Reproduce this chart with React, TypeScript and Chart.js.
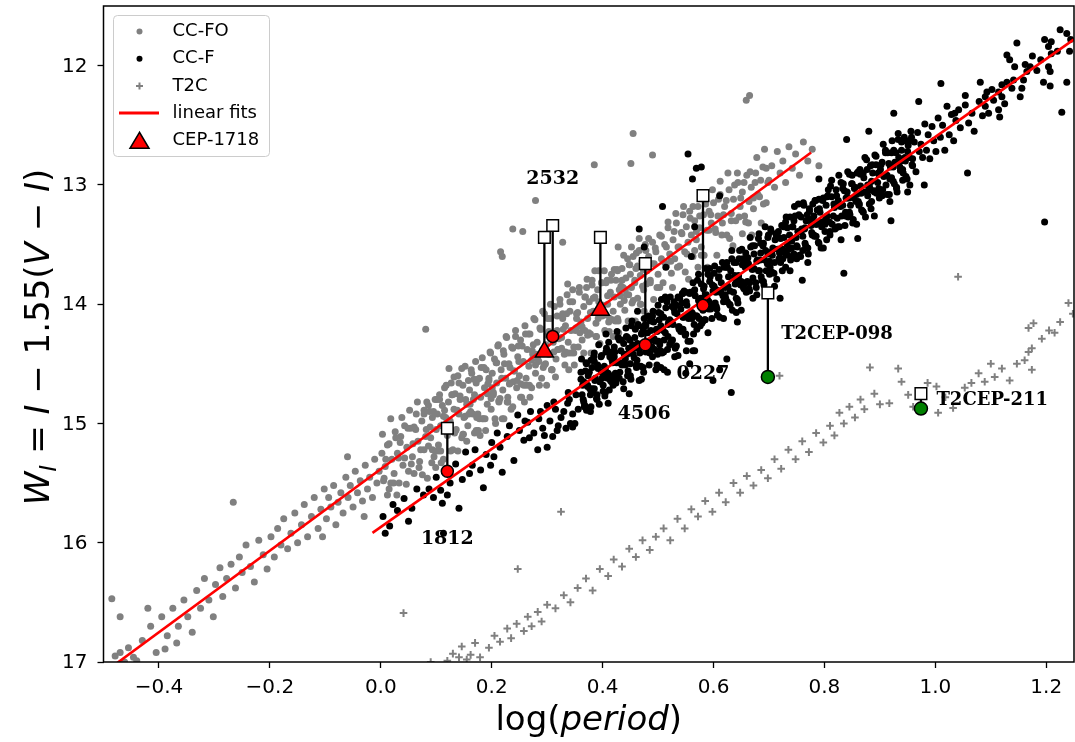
import React, { useEffect, useRef } from "react";
import { Chart, registerables } from "chart.js";

Chart.register(...registerables);

// ---------- axes ----------
const X_MIN = -0.5;
const X_MAX = 1.25;
const Y_MIN = 11.5;
const Y_MAX = 17;
const X_TICKS = [-0.4, -0.2, 0.0, 0.2, 0.4, 0.6, 0.8, 1.0, 1.2];
const X_TICK_LABELS = ["−0.4", "−0.2", "0.0", "0.2", "0.4", "0.6", "0.8", "1.0", "1.2"];
const Y_TICKS = [12, 13, 14, 15, 16, 17];
const Y_TICK_LABELS = ["12", "13", "14", "15", "16", "17"];

// ---------- series: first-overtone classical Cepheids (grey dots) ----------
const CC_FO: number[][] = [
  [-0.485,16.47],[-0.479,16.95],[-0.47,16.92],[-0.47,16.62],[-0.462,17.0],[-0.455,16.88],[-0.446,16.96],[-0.44,16.99],[-0.43,16.82],[-0.42,16.55],[-0.415,16.70],[-0.405,16.92],[-0.389,16.89],[-0.368,16.84],
  [-0.395,16.62],[-0.385,16.78],[-0.375,16.55],[-0.365,16.70],[-0.355,16.48],[-0.348,16.62],[-0.34,16.75],[-0.332,16.40],[-0.325,16.55],[-0.318,16.30],[-0.31,16.48],[-0.302,16.62],
  [-0.298,16.35],[-0.29,16.21],[-0.285,16.45],[-0.278,16.30],[-0.27,16.18],[-0.262,16.38],[-0.255,16.12],[-0.25,16.25],[-0.243,16.02],[-0.235,16.20],[-0.228,16.33],[-0.22,15.98],[-0.212,16.10],[-0.205,16.22],[-0.266,15.66],
  [-0.198,15.95],[-0.192,16.12],[-0.186,15.88],[-0.18,16.02],[-0.175,15.80],[-0.168,16.05],[-0.162,15.92],[-0.155,15.75],[-0.15,16.0],[-0.143,15.85],[-0.138,15.68],[-0.132,15.95],[-0.125,15.78],[-0.12,15.62],[-0.113,15.88],[-0.108,15.72],[-0.102,15.55],[-0.105,15.95],
  [-0.098,15.80],[-0.094,15.62],[-0.09,15.70],[-0.085,15.52],[-0.081,15.85],[-0.077,15.66],[-0.072,15.58],[-0.068,15.75],[-0.063,15.45],[-0.059,15.62],[-0.055,15.52],[-0.05,15.70],[-0.046,15.40],[-0.042,15.58],[-0.037,15.48],[-0.033,15.65],[-0.028,15.35],[-0.024,15.55],[-0.02,15.45],[-0.015,15.62],[-0.011,15.30],[-0.007,15.50],[-0.003,15.40],[-0.06,15.28],[-0.03,15.78],
  [0.002,15.25],[0.005,15.48],[0.008,15.36],[0.012,15.18],[0.015,15.55],[0.018,14.96],[0.02,15.30],[0.024,15.42],[0.027,15.12],[0.03,15.25],[0.033,15.50],[0.036,15.11],[0.04,15.35],[0.043,15.02],[0.047,15.20],[0.05,15.40],[0.054,15.04],[0.057,15.28],[0.06,15.03],[0.06,15.42],[0.064,14.92],[0.067,15.15],[0.07,15.32],[0.074,14.98],[0.078,14.89],[0.078,15.22],[0.081,14.21],[0.082,15.05],[0.084,15.46],[0.086,14.85],[0.09,15.12],[0.093,14.95],[0.096,15.28],[0.098,14.80],[0.1,15.05],
  [0.102,14.92],[0.104,15.18],[0.106,14.76],[0.108,15.02],[0.111,14.85],[0.113,15.30],[0.115,14.70],[0.117,14.95],[0.12,15.10],[0.122,14.82],[0.123,14.54],[0.125,14.98],[0.127,14.66],[0.13,15.22],[0.132,14.88],[0.134,14.75],[0.136,15.05],[0.139,14.60],[0.141,14.92],[0.143,14.80],[0.146,15.12],[0.148,14.68],[0.15,14.95],[0.152,14.52],[0.155,14.84],[0.157,15.02],[0.16,14.72],[0.162,14.90],[0.164,14.58],[0.167,14.80],[0.169,15.08],[0.171,14.48],[0.172,14.66],[0.175,14.92],[0.176,15.06],[0.178,14.62],[0.18,14.78],[0.183,14.45],[0.185,14.96],[0.187,14.70],[0.19,14.55],[0.192,14.84],[0.195,14.64],[0.197,14.40],[0.199,14.88],
  [0.201,14.58],[0.203,14.76],[0.205,14.46],[0.207,15.0],[0.209,14.66],[0.211,14.35],[0.213,14.82],[0.216,13.56],[0.217,14.55],[0.219,13.60],[0.22,14.72],[0.222,14.96],[0.222,14.42],[0.225,14.62],[0.227,14.28],[0.229,14.78],[0.231,14.50],[0.233,14.66],[0.236,14.36],[0.238,13.37],[0.238,14.86],[0.24,14.56],[0.243,14.22],[0.245,14.70],[0.247,14.44],[0.25,14.60],[0.252,14.30],[0.254,14.78],[0.256,13.39],[0.257,14.48],[0.26,14.18],[0.262,14.62],[0.264,14.38],[0.267,14.52],[0.269,14.25],[0.272,14.70],[0.274,14.42],[0.276,14.12],[0.279,13.13],[0.279,14.58],[0.282,14.32],[0.285,14.48],[0.287,14.20],[0.29,14.62],[0.292,14.38],[0.295,14.08],[0.297,14.50],
  [0.301,14.26],[0.303,14.42],[0.306,14.12],[0.308,14.55],[0.311,14.32],[0.313,14.02],[0.316,14.46],[0.318,14.22],[0.321,14.38],[0.323,13.96],[0.326,14.28],[0.328,13.48],[0.328,14.12],[0.331,14.42],[0.333,14.18],[0.336,13.92],[0.337,13.83],[0.338,14.32],[0.341,14.06],[0.343,14.22],[0.346,13.88],[0.348,14.36],
  [0.351,14.22],[0.353,14.08],[0.356,14.36],[0.358,13.90],[0.361,14.18],[0.363,14.30],[0.366,14.02],[0.368,14.22],[0.371,13.86],[0.373,14.12],[0.376,13.98],[0.378,14.25],[0.381,13.80],[0.383,14.06],[0.385,12.83],[0.386,13.94],[0.388,14.16],[0.391,13.88],[0.393,13.72],[0.396,14.02],[0.398,13.82],
  [0.401,14.06],[0.404,14.22],[0.406,13.82],[0.409,14.00],[0.411,14.15],[0.414,13.90],[0.416,13.75],[0.419,14.06],[0.421,13.94],[0.424,13.80],[0.427,13.72],[0.427,14.12],[0.428,13.52],[0.43,13.88],[0.432,14.00],[0.435,13.70],[0.437,13.86],[0.44,14.05],[0.442,13.78],[0.445,13.62],[0.447,13.92],[0.45,13.75],[0.451,12.82],[0.452,13.86],[0.455,12.57],[0.455,13.60],[0.458,13.82],[0.46,13.70],[0.463,13.95],[0.466,13.55],[0.468,13.76],[0.471,13.64],[0.474,13.88],[0.477,13.50],[0.48,13.72],[0.483,13.60],[0.486,13.80],[0.49,12.75],[0.49,13.48],[0.493,13.66],[0.496,13.56],
  [0.5,13.75],[0.503,13.42],[0.506,13.62],[0.509,13.82],[0.512,13.50],[0.515,13.68],[0.518,13.36],[0.521,13.58],[0.524,13.74],[0.527,13.46],[0.53,13.62],[0.533,13.32],[0.536,13.52],[0.539,13.68],[0.542,13.40],[0.545,13.25],[0.548,13.56],[0.551,13.35],[0.554,13.48],[0.557,13.22],[0.56,13.42],[0.563,13.60],[0.566,13.30],[0.569,13.46],[0.572,13.18],[0.575,13.36],[0.578,13.52],[0.582,13.25],[0.585,13.12],[0.588,13.38],[0.592,13.22],[0.596,13.32],
  [0.6,13.15],[0.604,13.40],[0.608,13.26],[0.612,13.08],[0.616,13.32],[0.62,13.18],[0.624,13.42],[0.628,13.04],[0.632,13.24],[0.636,13.12],[0.64,13.30],[0.644,12.98],[0.648,13.18],[0.652,13.06],[0.656,13.26],[0.659,12.29],[0.66,12.92],[0.664,13.14],[0.665,12.25],[0.668,13.02],[0.672,13.20],[0.676,12.90],[0.68,13.08],[0.685,12.96],[0.69,13.16],[0.695,12.86],
  [0.7,12.96],[0.705,12.84],[0.71,13.02],[0.715,12.72],[0.72,12.90],[0.725,12.80],[0.73,12.98],[0.736,12.68],[0.742,12.86],[0.748,12.74],[0.755,12.92],[0.762,12.64],[0.77,12.80],[0.778,12.70],[0.79,12.84],
  [.003,15.09],[.006,15.46],[.009,15.30],[.012,15.60],[.015,15.17],[.018,15.50],
  [.023,15.50],[.026,15.07],[.029,15.60],[.032,15.29],[.035,15.16],[.038,14.95],
  [.043,15.29],[.046,15.51],[.049,15.04],[.052,14.89],[.055,15.34],[.058,15.17],
  [.063,15.05],[.066,14.82],[.069,15.37],[.072,15.22],[.075,15.43],[.078,14.92],
  [.083,14.82],[.086,15.19],[.089,15.03],[.092,15.33],[.095,14.90],[.098,15.23],
  [.103,15.23],[.106,14.80],[.109,15.33],[.112,15.02],[.115,14.89],[.118,14.68],
  [.123,15.01],[.126,15.23],[.129,14.76],[.132,14.61],[.135,15.06],[.138,14.89],
  [.143,14.77],[.146,14.54],[.149,15.09],[.152,14.94],[.155,15.15],[.158,14.64],
  [.163,14.55],[.166,14.92],[.169,14.76],[.172,15.06],[.175,14.63],[.178,14.96],
  [.183,14.96],[.186,14.53],[.189,15.06],[.192,14.75],[.195,14.62],[.198,14.41],
  [.203,14.74],[.206,14.96],[.209,14.49],[.212,14.34],[.215,14.79],[.218,14.62],
  [.223,14.50],[.226,14.27],[.229,14.82],[.232,14.67],[.235,14.88],[.238,14.37],
  [.243,14.27],[.246,14.64],[.249,14.48],[.252,14.78],[.255,14.35],[.258,14.68],
  [.263,14.68],[.266,14.25],[.269,14.78],[.272,14.47],[.275,14.34],[.278,14.13],
  [.283,14.46],[.286,14.68],[.289,14.21],[.292,14.06],[.295,14.51],[.298,14.34],
  [.303,14.23],[.306,14.00],[.309,14.55],[.312,14.40],[.315,14.61],[.318,14.10],
  [.323,14.00],[.326,14.37],[.329,14.21],[.332,14.51],[.335,14.08],[.338,14.41],
  [.343,14.41],[.346,13.98],[.349,14.51],[.352,14.20],[.355,14.07],[.358,13.86],
  [.363,14.19],[.366,14.41],[.369,13.94],[.372,13.79],[.375,14.24],[.378,14.07],
  [.383,13.95],[.386,13.72],[.389,14.27],[.392,14.12],[.395,14.33],[.398,13.82],
  [.403,13.72],[.406,14.09],[.409,13.93],[.412,14.23],[.415,13.80],[.418,14.13],
  [.423,14.14],[.426,13.71],[.429,14.24],[.432,13.93],[.435,13.80],[.438,13.59],
  [.443,13.92],[.446,14.14],[.449,13.67],[.452,13.52],[.455,13.97],[.458,13.80],
  [.463,13.68],[.466,13.45],[.469,14.00],[.472,13.85],[.475,14.06],[.478,13.55],
  [.483,13.45],[.486,13.82],[.489,13.66],[.492,13.96],[.495,13.53],[.498,13.86],
  [.503,13.86],[.506,13.43],[.509,13.96],[.512,13.65],[.515,13.52],[.518,13.31],
  [.523,13.64],[.526,13.86],[.529,13.39],[.532,13.24],[.535,13.69],[.538,13.52],
  [.543,13.41],[.546,13.18],[.549,13.73],[.552,13.58],[.555,13.79],[.558,13.28],
  [.563,13.18],[.566,13.55],[.569,13.39],[.572,13.69],[.575,13.26],[.578,13.59],
  [.583,13.59],[.586,13.16],[.589,13.69],[.592,13.38],[.595,13.25],[.598,13.04],
  [.603,13.37],[.606,13.59],[.609,13.12],[.612,12.97],[.615,13.42],[.618,13.25],
  [.623,13.13],[.626,12.90],[.629,13.45],[.632,13.30],[.635,13.51],[.638,13.00],
  [.643,12.90],[.646,13.27],[.649,13.11],[.652,13.41],[.655,12.98],[.658,13.31],
  [.663,13.32],[.666,12.89],[.669,13.42],[.672,13.11],[.675,12.98],[.678,12.77],
  [.683,13.10],[.686,13.32],[.689,12.85],[.692,12.70],[.695,13.15],[.698,12.98],
  [.081,15.11],[.088,14.90],[.093,15.22],[.099,15.37],
  [.101,14.80],[.108,15.23],[.113,14.94],[.119,15.06],
  [.121,14.97],[.128,14.76],[.133,15.08],[.139,15.23],
  [.141,14.66],[.148,15.09],[.153,14.80],[.159,14.92],
  [.161,14.84],[.168,14.63],[.173,14.95],[.179,15.10],
  [.181,14.53],[.188,14.96],[.193,14.67],[.199,14.79],
  [.201,14.70],[.208,14.49],[.213,14.81],[.219,14.96],
  [.221,14.39],[.228,14.82],[.233,14.53],[.239,14.65],
  [.241,14.56],[.248,14.35],[.253,14.67],[.259,14.82],
  [.261,14.25],[.268,14.68],[.273,14.39],[.279,14.51],
  [.281,14.42],[.288,14.21],[.293,14.53],[.299,14.68],
  [.301,14.12],[.308,14.55],[.313,14.26],[.319,14.38],
  [.321,14.29],[.328,14.08],[.333,14.40],[.339,14.55],
  [.341,13.98],[.348,14.41],[.353,14.12],[.359,14.24],
  [.361,14.15],[.368,13.94],[.373,14.26],[.379,14.41],
  [.381,13.84],[.388,14.27],[.393,13.98],[.399,14.10],
  [.401,14.01],[.408,13.80],[.413,14.12],[.419,14.27],
  [.421,13.71],[.428,14.14],[.433,13.85],[.439,13.97],
  [.441,13.88],[.448,13.67],[.453,13.99],[.459,14.14],
  [.461,13.57],[.468,14.00],[.473,13.71],[.479,13.83]
];

// ---------- series: fundamental-mode classical Cepheids (black dots) ----------
const CC_F: number[][] = [
  [0.004,15.78],[0.008,15.92],[0.016,15.86],[0.022,15.68],[0.03,15.73],[0.042,15.63],[0.05,15.82],[0.056,15.71],[0.065,15.55],[0.077,15.60],[0.087,15.55],[0.095,15.62],[0.1,15.45],[0.108,15.56],[0.111,15.67],[0.113,15.92],[0.12,15.60],[0.125,15.50],[0.135,15.34],[0.141,15.71],[0.147,15.47],[0.153,15.24],[0.16,15.42],[0.165,15.35],[0.17,15.22],[0.18,15.39],[0.185,15.54],[0.19,15.26],[0.198,15.35],[0.2,15.16],[0.204,15.28],[0.21,15.08],[0.215,15.20],[0.219,15.41],[0.228,15.11],[0.232,15.02],[0.24,15.31],[0.247,14.93],[0.25,15.06],[0.258,15.14],[0.26,14.98],[0.265,14.99],[0.268,15.12],[0.27,14.90],[0.276,15.08],[0.283,15.22],[0.285,14.96],[0.288,14.90],[0.292,15.04],[0.295,15.10],[0.3,15.20],[0.3,14.85],[0.305,14.98],[0.31,15.11],[0.312,14.82],[0.315,14.88],[0.318,15.06],[0.32,15.02],[0.325,14.95],[0.33,14.90],[0.334,15.04],[0.337,14.83],[0.338,14.74],[0.34,14.80],[0.342,15.00],[0.346,15.03],[0.346,14.92],[0.35,15.00],[0.352,14.76],[0.356,14.88],
  [0.466,13.37],[0.508,13.18],[0.554,12.74],[0.569,12.86],[0.562,12.95],[0.578,12.85],[0.611,13.09],[0.566,13.35],[0.56,13.60],[0.593,13.70],[0.475,13.52],[0.514,13.69],[0.463,14.06],[0.475,14.12],[0.5,14.01],[0.529,13.98],[0.544,13.91],[0.566,14.39],[0.557,14.50],[0.517,14.57],[0.55,14.58],[0.505,14.53],[0.448,14.75],[0.466,14.64],[0.412,14.72],[0.367,14.86],[0.379,14.86],[0.385,14.71],[0.406,14.25],[0.835,13.74],[0.641,14.07],[0.643,14.15],[0.624,14.46],[0.632,14.74],[0.611,14.55],[0.551,14.39],[0.563,14.39],[0.536,14.43],[0.511,14.55],[0.496,14.55],[0.599,14.64],[0.671,13.95],
  [0.361,14.57],[0.363,14.76],[0.366,14.65],[0.368,14.85],[0.371,14.50],[0.373,14.69],[0.376,14.57],[0.378,14.76],
  [0.381,14.53],[0.383,14.72],[0.385,14.41],[0.387,14.62],[0.39,14.76],[0.392,14.54],[0.395,14.65],[0.398,14.43],
  [0.401,14.68],[0.403,14.52],[0.405,14.74],[0.407,14.37],[0.41,14.58],[0.413,14.44],[0.416,14.65],[0.418,14.49],
  [0.421,14.36],[0.423,14.58],[0.425,14.49],[0.428,14.28],[0.43,14.62],[0.433,14.39],[0.435,14.51],[0.438,14.33],
  [0.441,14.46],[0.443,14.27],[0.445,14.60],[0.447,14.37],[0.45,14.50],[0.452,14.18],[0.455,14.42],[0.458,14.28],
  [0.461,14.51],[0.463,14.33],[0.465,14.18],[0.467,14.41],[0.47,14.25],[0.473,14.53],[0.476,14.32],[0.478,14.18],
  [0.481,14.39],[0.483,14.10],[0.485,14.31],[0.487,14.22],[0.49,14.44],[0.492,14.15],[0.495,14.31],[0.498,14.23],
  [0.501,14.07],[0.503,14.34],[0.505,14.18],[0.507,14.41],[0.51,14.11],[0.513,14.24],[0.516,13.98],[0.518,14.27],
  [0.521,14.13],[0.523,14.32],[0.525,14.02],[0.527,14.17],[0.53,14.07],[0.533,14.35],[0.536,13.94],[0.538,14.19],
  [0.541,14.23],[0.543,13.99],[0.545,14.11],[0.547,13.89],[0.55,14.25],[0.552,14.01],[0.555,14.12],[0.558,13.90],
  [0.561,14.07],[0.563,13.82],[0.565,14.17],[0.567,13.93],[0.57,14.10],[0.573,13.97],[0.576,14.18],[0.578,13.83],
  [0.581,14.05],[0.583,13.85],[0.585,14.13],[0.587,13.92],[0.59,13.75],[0.592,13.98],[0.595,14.04],[0.598,13.84],
  [0.601,13.74],[0.603,13.99],[0.605,13.88],[0.607,14.09],[0.61,13.77],[0.613,13.90],[0.616,13.65],[0.618,13.98],
  [0.621,13.86],[0.623,13.69],[0.625,13.98],[0.627,13.77],[0.63,13.89],[0.633,13.62],[0.636,13.90],[0.638,13.76],
  [0.641,13.65],[0.643,13.96],[0.645,13.77],[0.647,13.55],[0.65,13.81],[0.652,13.67],[0.655,13.87],[0.658,13.57],
  [0.661,13.81],[0.663,13.66],[0.665,13.89],[0.667,13.52],[0.67,13.71],[0.673,13.58],[0.676,13.82],[0.678,13.64],
  [0.681,13.45],[0.683,13.72],[0.685,13.57],[0.687,13.80],[0.69,13.49],[0.692,13.63],[0.695,13.72],[0.698,13.44],
  [0.701,13.64],[0.703,13.37],[0.705,13.73],[0.707,13.53],[0.71,13.65],[0.713,13.41],[0.716,13.54],[0.718,13.44],
  [0.721,13.65],[0.723,13.34],[0.725,13.54],[0.727,13.44],[0.73,13.69],[0.733,13.36],[0.736,13.54],[0.738,13.27],
  [0.741,13.47],[0.743,13.35],[0.745,13.58],[0.747,13.26],[0.75,13.51],[0.752,13.39],[0.755,13.59],[0.758,13.27],
  [0.761,13.43],[0.763,13.17],[0.765,13.49],[0.767,13.30],[0.77,13.53],[0.773,13.20],[0.776,13.34],[0.778,13.29],
  [0.781,13.42],[0.783,13.13],[0.785,13.33],[0.787,13.21],[0.79,13.49],[0.792,13.23],[0.795,13.35],[0.798,13.11],
  [0.801,13.39],[0.803,13.17],[0.805,13.26],[0.807,13.04],[0.81,13.39],[0.813,13.10],[0.816,13.26],[0.818,13.17],
  [0.821,13.04],[0.823,13.28],[0.825,13.13],[0.827,13.35],[0.83,12.98],[0.833,13.17],[0.836,13.05],[0.838,13.26],
  [0.841,13.11],[0.843,13.27],[0.845,12.91],[0.847,13.17],[0.85,12.99],[0.852,13.29],[0.855,13.02],[0.858,13.08],
  [0.861,12.89],[0.863,13.16],[0.865,13.01],[0.867,13.21],[0.87,12.90],[0.873,13.06],[0.876,12.79],[0.878,13.09],
  [0.881,13.00],[0.883,12.84],[0.885,13.14],[0.887,12.90],[0.89,13.06],[0.893,12.76],[0.896,12.98],[0.898,12.91],
  [0.901,13.05],[0.904,12.81],[0.907,12.93],[0.91,12.71],[0.913,13.08],[0.916,12.82],[0.918,12.95],
  [0.921,12.73],[0.924,12.97],[0.927,12.81],[0.93,13.02],[0.933,12.62],[0.936,12.85],[0.939,12.71],
  [0.941,12.87],[0.944,12.63],[0.947,12.93],[0.95,12.72],[0.953,12.77],[0.956,12.55],[0.959,12.84],
  [0.962,12.64],[0.965,12.89],[0.968,12.56],[0.971,12.72],[0.974,12.66],[0.977,12.77],
  [0.981,12.49],[0.984,12.71],[0.987,12.58],[0.99,12.78],[0.994,12.51],[0.997,12.63],
  [1.001,12.72],[1.005,12.44],[1.009,12.60],[1.013,12.50],[1.017,12.71],[1.021,12.34],
  [1.025,12.58],[1.029,12.41],[1.033,12.63],[1.037,12.46],
  [1.225,11.70],[1.237,11.73],[1.244,11.78],[1.242,11.88],[1.197,11.78],[1.209,11.80],[1.204,11.84],[1.209,11.90],[1.147,11.81],[1.129,11.91],[1.134,11.95],[1.143,12.01],[1.162,11.99],[1.171,12.01],[1.183,12.04],[1.204,12.01],[1.207,12.05],[1.195,12.14],[1.207,12.17],[1.237,12.14],[1.228,12.39],[1.165,12.05],[1.159,12.12],[1.141,12.12],[1.129,12.14],[1.138,12.19],[1.156,12.19],[1.153,12.26],[1.12,12.16],[1.114,12.22],[1.102,12.20],[1.093,12.22],[1.081,12.14],[1.09,12.26],[1.105,12.29],[1.12,12.26],[1.125,12.32],[1.114,12.37],[1.09,12.34],[1.079,12.30],[1.054,12.25],[1.054,12.33],[1.042,12.37],[1.066,12.40],[1.096,12.40],[1.116,12.43],[1.035,12.40],
  [0.79,12.95],[0.84,12.62],[0.88,12.55],[0.925,12.40],[0.97,12.30],[1.01,12.15],[0.72,13.95],[0.76,13.80],[0.86,13.45],[0.92,13.30],[1.058,12.90],[1.197,13.31],[0.98,13.00],[1.045,12.52],[1.06,12.48],[1.07,12.55],[1.085,12.42],[1.175,11.92],[1.19,11.95],[1.22,11.88],
  [.362,14.46],[.364,14.68],[.366,14.82],[.369,14.56],[.371,14.89],[.374,14.60],[.377,14.71],[.379,14.47],
  [.382,14.74],[.384,14.44],[.386,14.64],[.389,14.79],[.391,14.51],[.394,14.84],[.397,14.44],[.399,14.62],
  [.402,14.60],[.404,14.77],[.406,14.40],[.409,14.62],[.411,14.32],[.414,14.64],[.417,14.47],[.419,14.68],
  [.422,14.40],[.424,14.66],[.426,14.23],[.429,14.49],[.431,14.57],[.434,14.30],[.437,14.65],[.439,14.42],
  [.442,14.20],[.444,14.42],[.446,14.56],[.449,14.30],[.451,14.63],[.454,14.34],[.457,14.45],[.459,14.21],
  [.462,14.47],[.464,14.17],[.466,14.37],[.469,14.52],[.471,14.24],[.474,14.57],[.477,14.17],[.479,14.35],
  [.482,14.34],[.484,14.51],[.486,14.14],[.489,14.36],[.491,14.06],[.494,14.38],[.497,14.21],[.499,14.42],
  [.502,14.13],[.504,14.39],[.506,13.96],[.509,14.22],[.511,14.30],[.514,14.03],[.517,14.38],[.519,14.15],
  [.522,13.94],[.524,14.16],[.526,14.30],[.529,14.04],[.531,14.37],[.534,14.08],[.537,14.19],[.539,13.95],
  [.542,14.21],[.544,13.91],[.546,14.11],[.549,14.26],[.551,13.98],[.554,14.31],[.557,13.91],[.559,14.09],
  [.562,14.08],[.564,14.25],[.566,13.88],[.569,14.10],[.571,13.80],[.574,14.12],[.577,13.95],[.579,14.16],
  [.582,13.87],[.584,14.13],[.586,13.70],[.589,13.96],[.591,14.04],[.594,13.77],[.597,14.12],[.599,13.89],
  [.602,13.68],[.604,13.90],[.606,14.04],[.609,13.78],[.611,14.11],[.614,13.82],[.617,13.93],[.619,13.69],
  [.622,13.95],[.624,13.65],[.626,13.85],[.629,14.00],[.631,13.72],[.634,14.05],[.637,13.65],[.639,13.83],
  [.642,13.82],[.644,13.99],[.646,13.62],[.649,13.84],[.651,13.54],[.654,13.86],[.657,13.69],[.659,13.90],
  [.662,13.61],[.664,13.87],[.666,13.44],[.669,13.70],[.671,13.78],[.674,13.51],[.677,13.86],[.679,13.63],
  [.682,13.41],[.684,13.63],[.686,13.77],[.689,13.51],[.691,13.84],[.694,13.55],[.697,13.66],[.699,13.42],
  [.702,13.69],[.704,13.39],[.706,13.59],[.709,13.74],[.711,13.46],[.714,13.79],[.717,13.39],[.719,13.57],
  [.722,13.55],[.724,13.72],[.726,13.35],[.729,13.57],[.731,13.27],[.734,13.59],[.737,13.42],[.739,13.63],
  [.742,13.35],[.744,13.61],[.746,13.18],[.749,13.44],[.751,13.52],[.754,13.25],[.757,13.60],[.759,13.37],
  [.762,13.15],[.764,13.37],[.766,13.51],[.769,13.25],[.771,13.58],[.774,13.29],[.777,13.40],[.779,13.16],
  [.782,13.43],[.784,13.13],[.786,13.33],[.789,13.48],[.791,13.20],[.794,13.53],[.797,13.13],[.799,13.31],
  [.802,13.29],[.804,13.46],[.806,13.09],[.809,13.31],[.811,13.01],[.814,13.33],[.817,13.16],[.819,13.37],
  [.822,13.09],[.824,13.35],[.826,12.92],[.829,13.18],[.831,13.26],[.834,12.99],[.837,13.34],[.839,13.11],
  [.842,12.89],[.844,13.11],[.846,13.25],[.849,12.99],[.851,13.32],[.854,13.03],[.857,13.14],[.859,12.90],
  [.862,13.17],[.864,12.87],[.866,13.07],[.869,13.22],[.871,12.94],[.874,13.27],[.877,12.87],[.879,13.05],
  [.882,13.03],[.884,13.20],[.886,12.83],[.889,13.05],[.891,12.75],[.894,13.07],[.897,12.90],[.899,13.11],
  [.902,12.83],[.904,13.09],[.906,12.66],[.909,12.92],[.911,13.00],[.914,12.73],[.917,13.08],[.919,12.85],
  [.922,12.63],[.924,12.85],[.926,12.99],[.929,12.73],[.931,13.06],[.934,12.77],[.937,12.88],[.939,12.64],
  [.942,12.90],[.944,12.60],[.946,12.80],[.949,12.95],[.951,12.67],[.954,13.00],[.957,12.60],[.959,12.78],
  [.361,14.63],[.365,14.80],[.37,14.49],[.373,14.68],[.378,14.90],
  [.381,14.71],[.385,14.48],[.39,14.80],[.393,14.34],[.398,14.57],
  [.401,14.73],[.405,14.54],[.41,14.83],[.413,14.40],[.418,14.60],
  [.421,14.44],[.425,14.61],[.43,14.30],[.433,14.49],[.438,14.71],
  [.441,14.51],[.445,14.28],[.45,14.60],[.453,14.14],[.458,14.37],
  [.461,14.53],[.465,14.34],[.47,14.63],[.473,14.20],[.478,14.40],
  [.481,14.24],[.485,14.41],[.49,14.10],[.493,14.29],[.498,14.51],
  [.501,14.31],[.505,14.08],[.51,14.40],[.513,13.94],[.518,14.17],
  [.521,14.34],[.525,14.15],[.53,14.44],[.533,14.01],[.538,14.21],
  [.541,14.04],[.545,14.21],[.55,13.90],[.553,14.09],[.558,14.31],
  [.561,14.12],[.565,13.89],[.57,14.21],[.573,13.75],[.578,13.98],
  [.581,14.14],[.585,13.95],[.59,14.24],[.593,13.81],[.598,14.01],
  [.601,13.85],[.605,14.02],[.61,13.71],[.613,13.90],[.618,14.12],
  [.621,13.92],[.625,13.69],[.63,14.01],[.633,13.55],[.638,13.78],
  [.641,13.95],[.645,13.76],[.65,14.05],[.653,13.62],[.658,13.82],
  [.661,13.65],[.665,13.82],[.67,13.51],[.673,13.70],[.678,13.92],
  [.681,13.72],[.685,13.49],[.69,13.81],[.693,13.35],[.698,13.58],
  [.701,13.75],[.705,13.56],[.71,13.85],[.713,13.42],[.718,13.62],
  [.721,13.45],[.725,13.62],[.73,13.31],[.733,13.50],[.738,13.72],
  [.741,13.53],[.745,13.30],[.75,13.62],[.753,13.16],[.758,13.39],
  [.761,13.55],[.765,13.36],[.77,13.65],[.773,13.22],[.778,13.42],
  [.781,13.26],[.785,13.43],[.79,13.12],[.793,13.31],[.798,13.53],
  [.801,13.33],[.805,13.10],[.81,13.42],[.813,12.96],[.818,13.19],
  [.821,13.36],[.825,13.17],[.83,13.46],[.833,13.03],[.838,13.23],
  [.841,13.06],[.845,13.23],[.85,12.92],[.853,13.11],[.858,13.33],
  [.861,13.14],[.865,12.91],[.87,13.23],[.873,12.77],[.878,13.00],
  [.881,13.16],[.885,12.97],[.89,13.26],[.893,12.83],[.898,13.03],
  [.901,12.87],[.905,13.04],[.91,12.73],[.913,12.92],[.918,13.14],
  [.921,12.94],[.925,12.71],[.93,13.03],[.933,12.57],[.938,12.80],
  [.941,12.96],[.945,12.77],[.95,13.06],[.953,12.63],[.958,12.83]
];

// ---------- series: type II Cepheids (grey crosses) ----------
const T2C: number[][] = [
  [0.09,17.0],[0.12,16.99],[0.13,16.93],[0.141,16.96],[0.146,16.87],[0.155,16.98],[0.162,16.94],[0.17,16.84],[0.179,16.96],[0.195,16.88],[0.205,16.78],[0.215,16.83],[0.228,16.72],[0.235,16.80],[0.245,16.68],[0.258,16.74],[0.265,16.62],[0.272,16.70],[0.283,16.58],[0.29,16.66],[0.3,16.52],[0.041,16.59],[0.247,16.22],[0.325,15.74],
  [0.315,16.55],[0.33,16.44],[0.342,16.50],[0.355,16.38],[0.37,16.30],[0.382,16.40],[0.395,16.22],[0.41,16.28],[0.42,16.14],[0.435,16.20],[0.448,16.05],[0.46,16.12],[0.472,15.98],[0.485,16.06],[0.496,15.95],[0.51,15.88],[0.522,15.98],[0.535,15.80],[0.548,15.88],[0.56,15.72],[0.572,15.78],[0.585,15.65],[0.598,15.74],[0.61,15.58],[0.622,15.66],[0.636,15.50],[0.648,15.58],[0.66,15.44],[0.672,15.52],[0.686,15.39],[0.698,15.46],[0.71,15.30],[0.722,15.38],[0.735,15.22],[0.748,15.30],[0.76,15.15],[0.772,15.24],[0.785,15.08],[0.798,15.16],[0.81,15.02],[0.818,15.10],[0.827,14.91],[0.835,15.00],[0.845,14.86],[0.855,14.95],[0.865,14.80],[0.872,14.88],[0.882,14.53],[0.89,14.75],[0.9,14.84],[0.917,14.83],[0.933,14.54],[0.939,14.65],[0.951,14.76],[0.96,14.86],[0.986,14.66],[1.002,14.69],[1.005,14.91],[1.018,14.78],[1.032,14.87],[1.041,13.77],[1.053,14.70],[1.065,14.66],[1.078,14.58],[1.089,14.65],[1.1,14.50],[1.107,14.61],[1.12,14.54],[1.134,14.64],[1.147,14.50],[1.161,14.47],[1.168,14.40],[1.174,14.37],[1.174,14.55],[1.168,14.20],[1.177,14.16],[1.192,14.29],[1.205,14.22],[1.215,14.24],[1.225,14.15],[1.24,13.99],[1.248,14.08],[0.719,14.60]
];

// ---------- linear fits ----------
const FIT_FO_X = [-0.48, 0.776];
const FIT_FO_Y = [17.024, 12.728];
const FIT_F_X = [-0.015, 1.25];
const FIT_F_Y = [15.917, 11.78];

// ---------- individual stars: open square -> shifted marker ----------
const STAR_X = [0.295, 0.31, 0.396, 0.477, 0.581, 0.12, 0.698, 0.974];
const STAR_SQUARE_Y = [13.44, 13.34, 13.44, 13.66, 13.09, 15.04, 13.905, 14.75];
const STAR_MARK_Y = [14.40, 14.27, 14.05, 14.34, 14.01, 15.40, 14.61, 14.875];
const STAR_KIND = ["cep1718", "cc", "cep1718", "cc", "cc", "cc", "t2", "t2"];

// ---------- annotations ----------
const NOTE_TEXT = ["2532", "4506", "0227", "1812", "T2CEP-098", "T2CEP-211"];
const NOTE_X = [0.31, 0.475, 0.581, 0.12, 0.722, 1.002];
const NOTE_Y = [12.95, 14.92, 14.59, 15.97, 14.25, 14.81];

const LEGEND_LABELS = ["CC-FO", "CC-F", "T2C", "linear fits", "CEP-1718"];

const GREY = "#808080";
const RED = "#ff0000";
const GREEN = "#008000";

const pts = (a: number[][]) => a.map(([x, y]) => ({ x, y }));
const pair = (xs: number[], ys: number[]) => xs.map((x, i) => ({ x, y: ys[i] }));

type Seg = { t: string; it?: boolean; sub?: boolean };
const Y_TITLE: Seg[] = [
  { t: "W", it: true }, { t: "I", it: true, sub: true }, { t: " = " }, { t: "I", it: true },
  { t: " − 1.55(" }, { t: "V", it: true }, { t: " − " }, { t: "I", it: true }, { t: ")" },
];
const X_TITLE: Seg[] = [{ t: "log(" }, { t: "period", it: true }, { t: ")" }];

function segFont(s: Seg, size: number) {
  const sz = s.sub ? size * 0.7 : size;
  return `${s.it ? "italic " : ""}${sz}px "DejaVu Sans"`;
}
function drawRich(ctx: CanvasRenderingContext2D, segs: Seg[], size: number) {
  const ws = segs.map((s) => { ctx.font = segFont(s, size); return ctx.measureText(s.t).width; });
  const total = ws.reduce((a, b) => a + b, 0);
  let x = -total / 2;
  segs.forEach((s, i) => {
    ctx.font = segFont(s, size);
    ctx.fillText(s.t, x, s.sub ? size * 0.22 : 0);
    x += ws[i];
  });
}

const overlay = {
  id: "overlay",
  afterDatasetsDraw(chart: any) {
    const { ctx, chartArea, scales } = chart;
    const xs = scales.x, ys = scales.y;
    ctx.save();
    ctx.fillStyle = "#000";
    ctx.textBaseline = "middle";
    NOTE_TEXT.forEach((t, i) => {
      const left = t.startsWith("T2CEP");
      ctx.font = `bold ${left ? 18 : 19}px "DejaVu Serif"`;
      ctx.textAlign = left ? "left" : "center";
      ctx.fillText(t, xs.getPixelForValue(NOTE_X[i]), ys.getPixelForValue(NOTE_Y[i]));
    });
    ctx.strokeStyle = "#000";
    ctx.lineWidth = 1.5;
    ctx.strokeRect(chartArea.left, chartArea.top, chartArea.right - chartArea.left, chartArea.bottom - chartArea.top);

    // tick labels
    ctx.font = '20px "DejaVu Sans"';
    ctx.fillStyle = "#000";
    ctx.textAlign = "center";
    ctx.textBaseline = "middle";
    X_TICKS.forEach((v, i) => ctx.fillText(X_TICK_LABELS[i], xs.getPixelForValue(v), chartArea.bottom + 26));
    ctx.textAlign = "right";
    Y_TICKS.forEach((v, i) => ctx.fillText(Y_TICK_LABELS[i], chartArea.left - 16, ys.getPixelForValue(v) + 1));

    // legend
    const bx = 113.5, by = 15.5, bw = 156, bh = 141, r = 4;
    ctx.beginPath();
    ctx.moveTo(bx + r, by);
    ctx.lineTo(bx + bw - r, by);
    ctx.quadraticCurveTo(bx + bw, by, bx + bw, by + r);
    ctx.lineTo(bx + bw, by + bh - r);
    ctx.quadraticCurveTo(bx + bw, by + bh, bx + bw - r, by + bh);
    ctx.lineTo(bx + r, by + bh);
    ctx.quadraticCurveTo(bx, by + bh, bx, by + bh - r);
    ctx.lineTo(bx, by + r);
    ctx.quadraticCurveTo(bx, by, bx + r, by);
    ctx.closePath();
    ctx.fillStyle = "rgba(255,255,255,0.8)";
    ctx.fill();
    ctx.strokeStyle = "#cccccc";
    ctx.lineWidth = 1;
    ctx.stroke();
    const mx = 139.5;
    LEGEND_LABELS.forEach((lab, i) => {
      const cy = 31.5 + i * 27.2;
      if (i === 0 || i === 1) {
        ctx.beginPath();
        ctx.arc(mx, cy, 3, 0, Math.PI * 2);
        ctx.fillStyle = i === 0 ? GREY : "#000";
        ctx.fill();
      } else if (i === 2) {
        ctx.strokeStyle = GREY;
        ctx.lineWidth = 2;
        ctx.beginPath();
        ctx.moveTo(mx - 3.5, cy); ctx.lineTo(mx + 3.5, cy);
        ctx.moveTo(mx, cy - 3.5); ctx.lineTo(mx, cy + 3.5);
        ctx.stroke();
      } else if (i === 3) {
        ctx.strokeStyle = RED;
        ctx.lineWidth = 3;
        ctx.beginPath();
        ctx.moveTo(119, cy); ctx.lineTo(159, cy);
        ctx.stroke();
      } else {
        ctx.beginPath();
        ctx.moveTo(mx, cy - 8);
        ctx.lineTo(mx - 9.5, cy + 8);
        ctx.lineTo(mx + 9.5, cy + 8);
        ctx.closePath();
        ctx.fillStyle = RED;
        ctx.fill();
        ctx.strokeStyle = "#000";
        ctx.lineWidth = 1.5;
        ctx.stroke();
      }
      ctx.fillStyle = "#000";
      ctx.font = '18px "DejaVu Sans"';
      ctx.textAlign = "left";
      ctx.textBaseline = "middle";
      ctx.fillText(lab, 172.5, cy);
    });
    ctx.restore();

    ctx.save();
    ctx.fillStyle = "#000";
    ctx.textAlign = "left";
    ctx.textBaseline = "alphabetic";
    ctx.translate((chartArea.left + chartArea.right) / 2, 730);
    drawRich(ctx, X_TITLE, 34);
    ctx.restore();
    ctx.save();
    ctx.fillStyle = "#000";
    ctx.textAlign = "left";
    ctx.textBaseline = "alphabetic";
    ctx.translate(49, 337);
    ctx.rotate(-Math.PI / 2);
    drawRich(ctx, Y_TITLE, 34);
    ctx.restore();
  },
};

export default function App() {
  const ref = useRef<HTMLCanvasElement | null>(null);
  useEffect(() => {
    if (!ref.current) return;
    const connectors = STAR_X.map((x, i) => ({
      type: "scatter" as const,
      data: [{ x, y: STAR_SQUARE_Y[i] }, { x, y: STAR_MARK_Y[i] }],
      showLine: true,
      borderColor: "#000",
      borderWidth: 2.3,
      pointRadius: 0,
      clip: 0,
      order: 3,
    }));
    const pick = (k: string) =>
      STAR_X.map((x, i) => ({ x, y: STAR_MARK_Y[i], k: STAR_KIND[i] }))
        .filter((p) => p.k === k)
        .map(({ x, y }) => ({ x, y }));

    const chart = new Chart(ref.current, {
      type: "scatter",
      data: {
        datasets: [
          { data: pts(CC_FO), backgroundColor: GREY, borderWidth: 0, pointRadius: 3.5, clip: 0, order: 9 } as any,
          { data: pts(CC_F), backgroundColor: "#000", borderWidth: 0, pointRadius: 3.5, clip: 0, order: 8 } as any,
          { data: pts(T2C), pointStyle: "cross", borderColor: GREY, borderWidth: 2, pointRadius: 3.8, clip: 0, order: 7 } as any,
          { data: pair(FIT_FO_X, FIT_FO_Y), showLine: true, borderColor: RED, borderWidth: 2.6, pointRadius: 0, clip: 0, order: 5 } as any,
          { data: pair(FIT_F_X, FIT_F_Y), showLine: true, borderColor: RED, borderWidth: 2.6, pointRadius: 0, clip: 0, order: 5 } as any,
          ...(connectors as any[]),
          { data: pair(STAR_X, STAR_SQUARE_Y), pointStyle: "rect", pointRadius: 8.2, backgroundColor: "#fff", borderColor: "#000", borderWidth: 1.5, clip: 0, order: 2 } as any,
          { data: pick("cc"), pointStyle: "circle", pointRadius: 6, backgroundColor: RED, borderColor: "#000", borderWidth: 1.5, clip: 0, order: 1 } as any,
          { data: pick("cep1718"), pointStyle: "triangle", pointRadius: 10.4, backgroundColor: RED, borderColor: "#000", borderWidth: 1.5, clip: 0, order: 1 } as any,
          { data: pick("t2"), pointStyle: "circle", pointRadius: 6.5, backgroundColor: GREEN, borderColor: "#000", borderWidth: 1.5, clip: 0, order: 1 } as any,
        ],
      },
      options: {
        responsive: false,
        animation: false,
        devicePixelRatio: 1,
        events: [],
        layout: { autoPadding: false, padding: { left: 0, right: 1, top: 6, bottom: 0 } },
        plugins: { legend: { display: false }, tooltip: { enabled: false }, title: { display: false } },
        scales: {
          x: {
            type: "linear",
            min: X_MIN,
            max: X_MAX,
            afterBuildTicks: (s: any) => { s.ticks = X_TICKS.map((v) => ({ value: v })); },
            afterFit: (s: any) => { s.height = 80; },
            ticks: { display: false },
            grid: { display: true, drawOnChartArea: false, drawTicks: true, tickLength: 6, tickColor: "#000", tickWidth: 1.3 },
            border: { display: false },
          },
          y: {
            type: "linear",
            reverse: true,
            min: Y_MIN,
            max: Y_MAX,
            afterBuildTicks: (s: any) => { s.ticks = Y_TICKS.map((v) => ({ value: v })); },
            afterFit: (s: any) => { s.width = 103.5; },
            ticks: { display: false },
            grid: { display: true, drawOnChartArea: false, drawTicks: true, tickLength: 6, tickColor: "#000", tickWidth: 1.3 },
            border: { display: false },
          },
        },
      } as any,
      plugins: [overlay],
    });
    return () => chart.destroy();
  }, []);

  return (
    <div style={{ position: "fixed", left: 0, top: 0, width: 1075, height: 742, background: "#fff" }}>
      <canvas ref={ref} width={1075} height={742} style={{ display: "block" }} />
    </div>
  );
}
